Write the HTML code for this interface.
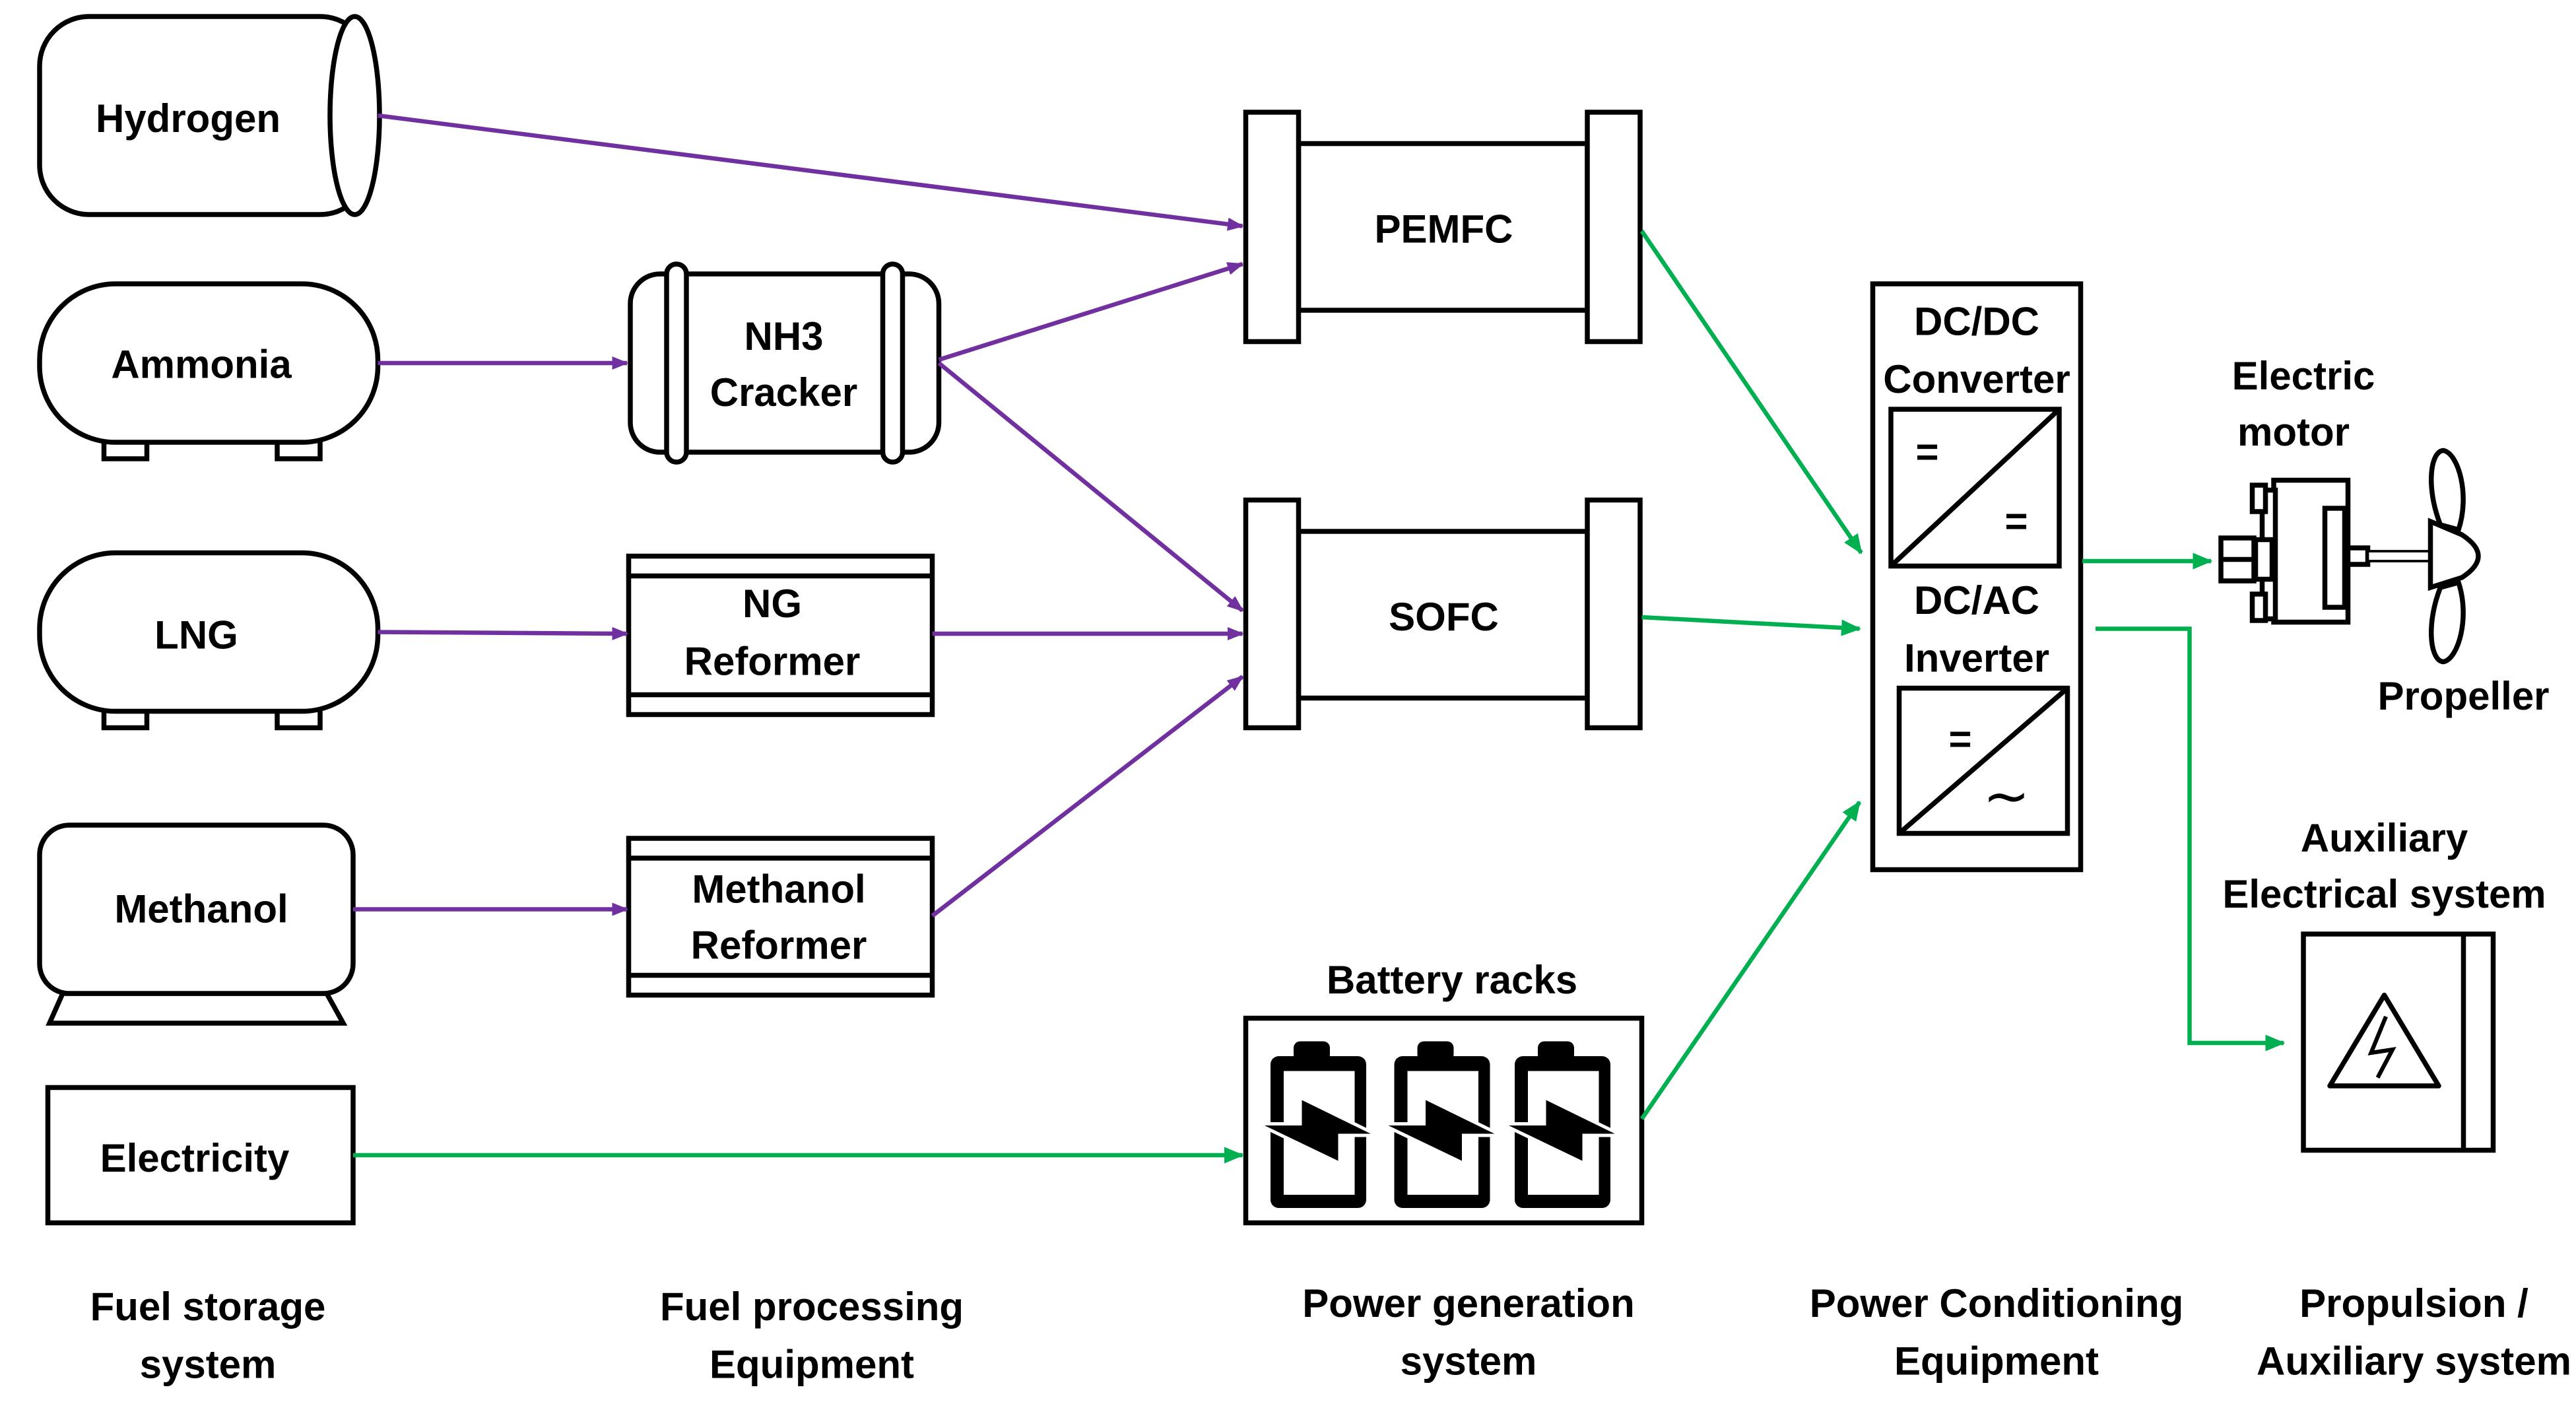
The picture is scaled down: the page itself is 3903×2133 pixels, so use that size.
<!DOCTYPE html>
<html><head><meta charset="utf-8"><style>html,body{margin:0;padding:0;background:#fff}svg{display:block}</style></head>
<body>
<svg width="3903" height="2133" viewBox="0 0 1561.2 853.2" xmlns="http://www.w3.org/2000/svg" font-family="Liberation Sans, sans-serif" font-weight="bold" font-size="24" text-anchor="middle">
<defs>
<marker id="ap" markerWidth="10" markerHeight="10" refX="9" refY="5" orient="auto" markerUnits="userSpaceOnUse"><path d="M0,1 L10,5 L0,9 Z" fill="#7030a0"/></marker>
<marker id="ag" markerWidth="12" markerHeight="12" refX="11" refY="6" orient="auto" markerUnits="userSpaceOnUse"><path d="M0,1 L12,6 L0,11 Z" fill="#00b050"/></marker>
</defs>
<g fill="#fff" stroke="#000" stroke-width="3">
<!-- Hydrogen -->
<rect x="24" y="10" width="200" height="120" rx="30"/>
<ellipse cx="215" cy="70" rx="15" ry="60"/>
<!-- Ammonia -->
<rect x="63" y="262" width="26" height="16"/><rect x="168" y="262" width="26" height="16"/>
<rect x="24" y="172" width="205" height="96" rx="46"/>
<!-- LNG -->
<rect x="63" y="425" width="26" height="16"/><rect x="168" y="425" width="26" height="16"/>
<rect x="24" y="335" width="205" height="96" rx="46"/>
<!-- Methanol -->
<path d="M38,602 L30,620 L208,620 L198,602 Z"/>
<rect x="24" y="500" width="190" height="102" rx="18"/>
<!-- Electricity -->
<rect x="29" y="659" width="185" height="82"/>
<!-- NH3 cracker -->
<rect x="382" y="166" width="187" height="108" rx="18"/>
<rect x="404" y="160" width="12" height="120" rx="6"/>
<rect x="535" y="160" width="12" height="120" rx="6"/>
<!-- NG reformer -->
<rect x="381" y="337" width="184" height="96"/>
<line x1="381" y1="349" x2="565" y2="349"/><line x1="381" y1="421" x2="565" y2="421"/>
<!-- Methanol reformer -->
<rect x="381" y="508" width="184" height="95"/>
<line x1="381" y1="520" x2="565" y2="520"/><line x1="381" y1="591" x2="565" y2="591"/>
<!-- PEMFC -->
<rect x="787" y="87" width="175" height="101"/>
<rect x="755" y="68" width="32" height="139"/><rect x="962" y="68" width="32" height="139"/>
<!-- SOFC -->
<rect x="787" y="322" width="175" height="101"/>
<rect x="755" y="303" width="32" height="138"/><rect x="962" y="303" width="32" height="138"/>
<!-- Battery box -->
<rect x="755" y="617" width="240" height="124"/>
<!-- Converter -->
<rect x="1135" y="172" width="126" height="355"/>
<rect x="1146" y="248" width="102" height="95"/>
<line x1="1146" y1="343" x2="1248" y2="248"/>
<rect x="1151" y="417" width="102" height="88"/>
<line x1="1151" y1="505" x2="1253" y2="417"/>
<!-- Aux -->
<rect x="1396" y="566" width="115" height="131"/>
<line x1="1493" y1="566" x2="1493" y2="697"/>
<path d="M1445,603 L1478,658 L1412,658 Z" stroke-linejoin="round"/>
<path d="M1446,616 L1437,638 L1450,636 L1441,653" fill="none" stroke-width="2.5"/>
</g>
<!-- batteries -->
<g>
<g id="bt">
<rect x="770" y="640" width="58" height="92" rx="5" fill="#000"/>
<rect x="784" y="631" width="22" height="12" rx="4" fill="#000"/>
<rect x="778" y="649" width="43" height="75" fill="#fff"/>
<path d="M762,681 L788,681 L788,665 L835,688 L812,688 L812,705 Z" fill="#000" stroke="#fff" stroke-width="2"/>
</g>
<use href="#bt" x="75"/><use href="#bt" x="148"/>
</g>
<!-- motor & propeller -->
<g fill="#fff" stroke="#000" stroke-width="3">
<rect x="1378" y="291" width="45" height="86"/>
<rect x="1371" y="297" width="8" height="78"/>
<rect x="1365" y="294" width="8" height="16"/><rect x="1365" y="360" width="8" height="16"/>
<rect x="1346" y="326" width="20" height="26"/><line x1="1346" y1="339" x2="1366" y2="339"/>
<rect x="1367" y="327" width="10" height="24"/>
<rect x="1409" y="308" width="12" height="60"/>
<rect x="1423" y="332" width="12" height="10"/>
<rect x="1435" y="334" width="38" height="6" stroke-width="1.5"/>
<path d="M1479,318 C1470,295 1473,273 1481,273 C1490,275 1497,300 1490,321 Z"/>
<path d="M1479,356 C1470,379 1473,401 1481,401 C1490,399 1497,374 1490,353 Z"/>
<path d="M1473,316 L1492,324 Q1512,337 1492,350 L1473,356 Z"/>
</g>
<!-- purple connectors -->
<g stroke="#7030a0" stroke-width="2.6" fill="none" marker-end="url(#ap)">
<line x1="229" y1="70" x2="753" y2="137"/>
<line x1="229" y1="220" x2="380" y2="220"/>
<line x1="569" y1="218" x2="753" y2="160"/>
<line x1="569" y1="220" x2="753" y2="370"/>
<line x1="229" y1="383" x2="380" y2="384"/>
<line x1="565" y1="384" x2="753" y2="384"/>
<line x1="565" y1="555" x2="753" y2="410"/>
<line x1="214" y1="551" x2="380" y2="551"/>
</g>
<!-- green connectors -->
<g stroke="#00b050" stroke-width="2.6" fill="none" marker-end="url(#ag)">
<line x1="995" y1="140" x2="1128" y2="335"/>
<line x1="995" y1="374" x2="1127" y2="381"/>
<line x1="995" y1="678" x2="1127" y2="486"/>
<line x1="214" y1="700" x2="753" y2="700"/>
<line x1="1262" y1="340" x2="1340" y2="340"/>
<polyline points="1270,381 1327,381 1327,632 1384,632"/>
</g>
<!-- text -->
<g fill="#000">
<text x="114" y="80">Hydrogen</text>
<text x="122" y="229">Ammonia</text>
<text x="119" y="393">LNG</text>
<text x="122" y="559">Methanol</text>
<text x="118" y="710">Electricity</text>
<text x="475" y="212">NH3</text><text x="475" y="246">Cracker</text>
<text x="468" y="374">NG</text><text x="468" y="409">Reformer</text>
<text x="472" y="547">Methanol</text><text x="472" y="581">Reformer</text>
<text x="875" y="147">PEMFC</text>
<text x="875" y="382">SOFC</text>
<text x="880" y="602">Battery racks</text>
<text x="1198" y="203">DC/DC</text><text x="1198" y="238">Converter</text>
<text x="1198" y="372">DC/AC</text><text x="1198" y="407">Inverter</text>
<text x="1168" y="282">=</text><text x="1222" y="324">=</text>
<text x="1188" y="456">=</text><text x="1216" y="494" font-size="34" font-weight="normal">∼</text>
<text x="1396" y="236">Electric</text><text x="1390" y="270">motor</text>
<text x="1493" y="430">Propeller</text>
<text x="1445" y="516">Auxiliary</text><text x="1445" y="550">Electrical system</text>
<text x="126" y="800">Fuel storage</text><text x="126" y="835">system</text>
<text x="492" y="800">Fuel processing</text><text x="492" y="835">Equipment</text>
<text x="890" y="798">Power generation</text><text x="890" y="833">system</text>
<text x="1210" y="798">Power Conditioning</text><text x="1210" y="833">Equipment</text>
<text x="1463" y="798">Propulsion /</text><text x="1463" y="833">Auxiliary system</text>
</g>
</svg>
</body></html>
